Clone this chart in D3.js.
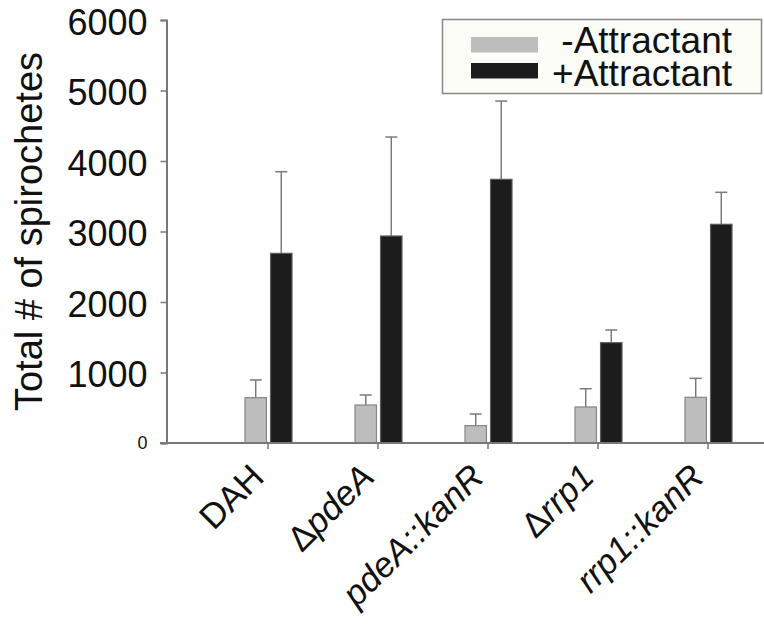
<!DOCTYPE html>
<html>
<head>
<meta charset="utf-8">
<script src="https://cdn.jsdelivr.net/npm/d3@7"></script>
<style>
  html, body { margin: 0; padding: 0; background: #fff; }
  svg { display: block; }
  text { font-family: "Liberation Sans", Arial, Helvetica, sans-serif; fill: #111; }
</style>
</head>
<body>
<svg id="chart" width="764" height="628"></svg>
<script>
// ---- data ----
const categories = ["DAH", "\u0394pdeA", "pdeA::kanR", "\u0394rrp1", "rrp1::kanR"];
const seriesNames = ["-Attractant", "+Attractant"];
const minusValues = [643, 539, 246, 511, 648];
const minusErrors = [251, 142, 165, 259, 269];
const plusValues = [2690, 2936, 3740, 1423, 3102];
const plusErrors = [1158, 1404, 1110, 180, 454];
const yTicks = [0, 1000, 2000, 3000, 4000, 5000, 6000];
const yTitle = "Total # of spirochetes";

// ---- layout ----
const svg = d3.select("#chart");
const axisX = 166.5, baseY = 443, topY = 20;

const y = d3.scaleLinear().domain([0, 6000]).range([baseY, topY]);
const x = d3.scaleBand().domain(categories).range([213, 763]).padding(0);
const sub = d3.scaleBand().domain(seriesNames)
  .range([x.bandwidth() / 2 - 23, x.bandwidth() / 2 + 24]).paddingInner(0.16);

const colors = { "-Attractant": "#bdbdbd", "+Attractant": "#1c1c1c" };
const strokes = { "-Attractant": "#858585", "+Attractant": "#5a5a5a" };

const rows = categories.map((c, i) => ({
  cat: c,
  bars: [
    { s: "-Attractant", v: minusValues[i], e: minusErrors[i] },
    { s: "+Attractant", v: plusValues[i], e: plusErrors[i] }
  ]
}));

// error bars
const g = svg.append("g");
rows.forEach(r => {
  r.bars.forEach(b => {
    const cx = x(r.cat) + sub(b.s) + sub.bandwidth() / 2;
    g.append("line")
      .attr("x1", cx).attr("x2", cx)
      .attr("y1", y(b.v)).attr("y2", y(b.v + b.e))
      .attr("stroke", "#7a7a7a").attr("stroke-width", 1.5);
    g.append("line")
      .attr("x1", cx - 6).attr("x2", cx + 6)
      .attr("y1", y(b.v + b.e)).attr("y2", y(b.v + b.e))
      .attr("stroke", "#7a7a7a").attr("stroke-width", 1.5);
  });
});

// bars
rows.forEach(r => {
  g.selectAll(null).data(r.bars).enter().append("rect")
    .attr("x", d => x(r.cat) + sub(d.s))
    .attr("y", d => y(d.v))
    .attr("width", sub.bandwidth())
    .attr("height", d => baseY - y(d.v))
    .attr("fill", d => colors[d.s])
    .attr("stroke", d => strokes[d.s])
    .attr("stroke-width", 1.2);
});

// y axis
const yAxis = d3.axisLeft(y).tickValues(yTicks).tickSize(6).tickPadding(13)
  .tickFormat(d3.format("d"));
const ya = svg.append("g").attr("transform", `translate(${axisX},0)`).call(yAxis);
ya.select(".domain").attr("stroke", "#777").attr("stroke-width", 2);
ya.selectAll(".tick line").attr("stroke", "#777").attr("stroke-width", 1.5);
ya.selectAll(".tick text")
  .attr("font-size", d => d === 0 ? 18 : 36)
  .attr("fill", "#111")
  .attr("dy", d => d === 0 ? "0.32em" : "0.4em")
  .style("font-family", '"Liberation Sans", Arial, sans-serif');

// x axis
const xa = svg.append("g").attr("transform", `translate(0,${baseY})`);
xa.append("line").attr("x1", 160).attr("x2", 764).attr("y1", 0).attr("y2", 0)
  .attr("stroke", "#777").attr("stroke-width", 2);
const xAxis = d3.axisBottom(x).tickSize(6).tickFormat("");
const xg = xa.append("g").call(xAxis);
xg.select(".domain").remove();
xg.selectAll(".tick line").attr("stroke", "#777").attr("stroke-width", 1.5);

// x labels (rotated, gene names italic)
categories.forEach(c => {
  const px = x(c) + x.bandwidth() / 2 - 2;
  const t = svg.append("text")
    .attr("transform", `translate(${px},${baseY + 36}) rotate(-45)`)
    .attr("text-anchor", "end")
    .attr("font-size", 35);
  if (c === "DAH") {
    t.text(c);
  } else if (c.startsWith("\u0394")) {
    t.append("tspan").text("\u0394");
    t.append("tspan").attr("font-style", "italic").text(c.slice(1));
  } else {
    t.append("tspan").attr("font-style", "italic").text(c);
  }
});

// y title
svg.append("text")
  .attr("transform", `translate(42,${(topY + baseY) / 2}) rotate(-90)`)
  .attr("text-anchor", "middle")
  .attr("font-size", 38)
  .text(yTitle);

// legend
const lg = svg.append("g");
lg.append("rect").attr("x", 442.5).attr("y", 19.5).attr("width", 319).attr("height", 74)
  .attr("fill", "#fdfdf7").attr("stroke", "#888").attr("stroke-width", 1.5);
seriesNames.forEach((s, i) => {
  lg.append("rect").attr("x", 471).attr("y", 37 + i * 26).attr("width", 67).attr("height", 15.5)
    .attr("fill", colors[s]);
  lg.append("text").attr("x", 732).attr("y", 53 + i * 33)
    .attr("text-anchor", "end").attr("font-size", 37).text(s);
});
</script>
</body>
</html>
